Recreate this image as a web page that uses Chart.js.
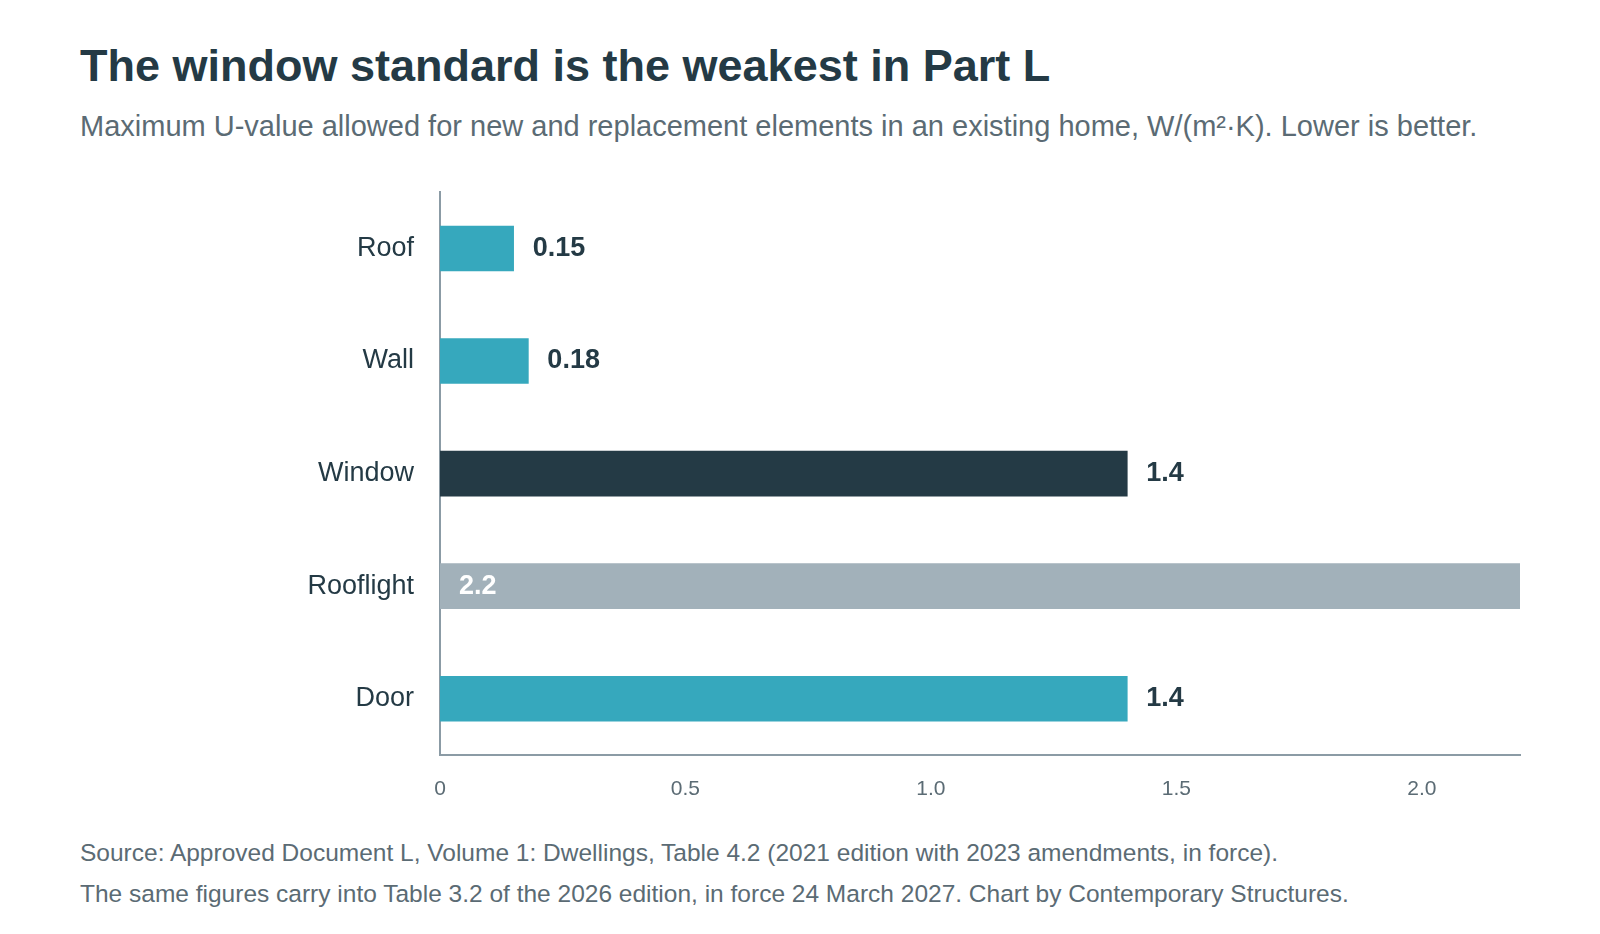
<!DOCTYPE html>
<html><head><meta charset="utf-8">
<script src="https://cdn.jsdelivr.net/npm/chart.js@4"></script>
<style>
body{margin:0;width:1600px;height:934px;background:#fff;font-family:"Liberation Sans",Arial,sans-serif;position:relative;overflow:hidden}
#t{position:absolute;left:80px;top:40px;font-size:45px;font-weight:bold;color:#243a45}
#s{position:absolute;left:80px;top:110px;font-size:29px;color:#5b6b74}
#f{position:absolute;left:80px;top:832px;font-size:24.5px;color:#5b6b74;line-height:41px}
#w{position:absolute;left:0;top:150px;width:1600px;height:663px}
</style></head><body>
<div id="t">The window standard is the weakest in Part L</div>
<div id="s">Maximum U-value allowed for new and replacement elements in an existing home, W/(m²·K). Lower is better.</div>
<div id="w"><canvas id="c"></canvas></div>
<div id="f">Source: Approved Document L, Volume 1: Dwellings, Table 4.2 (2021 edition with 2023 amendments, in force).<br>The same figures carry into Table 3.2 of the 2026 edition, in force 24 March 2027. Chart by Contemporary Structures.</div>
<script>
const categories = ["Roof", "Wall", "Window", "Rooflight", "Door"];
const values = [0.15, 0.18, 1.4, 2.2, 1.4];
const labels = ["0.15", "0.18", "1.4", "2.2", "1.4"];
const barColors = ["#36a8bd", "#36a8bd", "#243a45", "#a2b1ba", "#36a8bd"];
const xTicks = [0, 0.5, 1.0, 1.5, 2.0];

const valueLabels = {
  id: "valueLabels",
  afterDatasetsDraw(chart) {
    const ctx = chart.ctx;
    const meta = chart.getDatasetMeta(0);
    ctx.save();
    ctx.font = "bold 27px 'Liberation Sans', Arial, sans-serif";
    ctx.textBaseline = "middle";
    meta.data.forEach((bar, i) => {
      if (values[i] >= 2) {
        ctx.fillStyle = "#fff";
        ctx.fillText(labels[i], bar.base + 19, bar.y);
      } else {
        ctx.fillStyle = "#243a45";
        ctx.fillText(labels[i], bar.x + 19, bar.y);
      }
    });
    ctx.restore();
  }
};

new Chart(document.getElementById("c"), {
  type: "bar",
  data: { labels: categories, datasets: [{ data: values, backgroundColor: barColors, barThickness: 45 }] },
  options: {
    indexAxis: "y",
    responsive: true, maintainAspectRatio: false, animation: false,
    layout: { padding: { top: 10, right: 80 } },
    plugins: { legend: { display: false }, tooltip: { enabled: false } },
    scales: {
      x: {
        min: 0, max: 2.2,
        grid: { display: false, drawTicks: false },
        border: { color: "#8b9ba5", width: 2 },
        afterBuildTicks: (s) => { s.ticks = xTicks.map((v) => ({ value: v })); },
        ticks: { padding: 22, color: "#5b6b74", font: { size: 21 },
          callback: (v) => v === 0 ? "0" : v.toFixed(1) },
        afterFit: (s) => { s.height = 58; }
      },
      y: {
        grid: { display: false, drawTicks: false },
        border: { color: "#8b9ba5", width: 2 },
        ticks: { padding: 26, color: "#243a45", font: { size: 27 } },
        afterFit: (s) => { s.width = 440; }
      }
    }
  },
  plugins: [valueLabels]
});
</script>
</body></html>
